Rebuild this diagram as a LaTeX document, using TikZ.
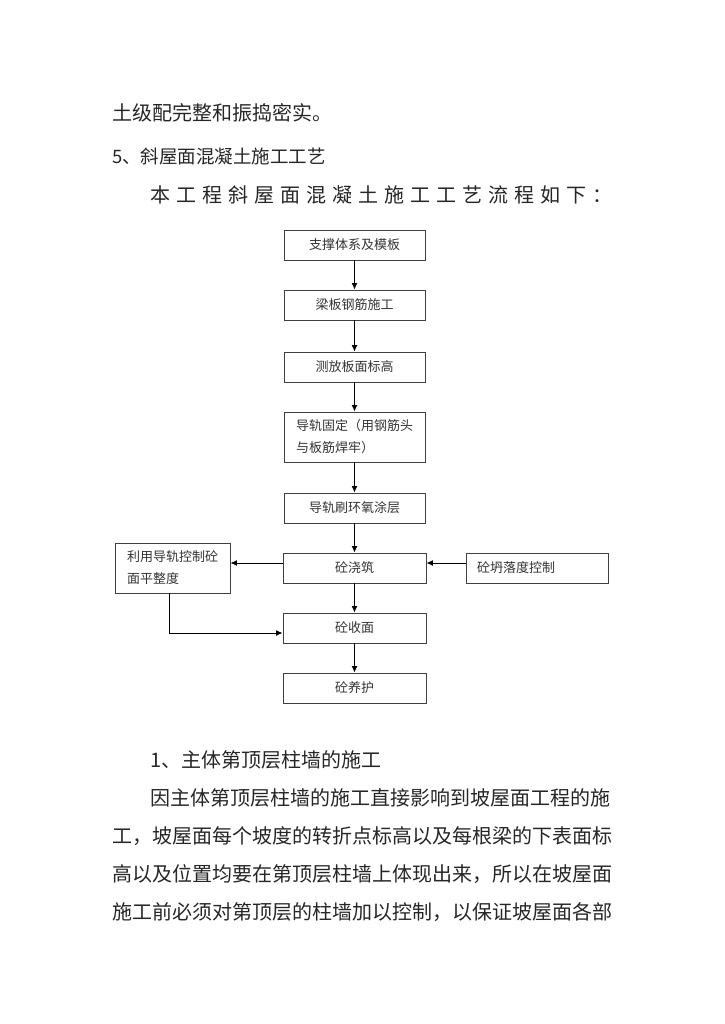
\documentclass[tikz,border=0pt]{standalone}
\usepackage{fontspec}
\setmainfont{Noto Sans CJK SC}
\usetikzlibrary{arrows.meta}

\begin{document}
\begin{tikzpicture}[x=1pt,y=-1pt,
    txt/.style={anchor=west,inner sep=0,text=black!85,font=\fontsize{20}{24}\selectfont},
    box/.style={draw=black!75,line width=0.9pt,rectangle,minimum width=141pt,minimum height=30pt,inner sep=0,text=black!80,font=\fontsize{13}{22}\selectfont},
    arr/.style={line width=1pt,-{Latex[length=6.5pt,width=6pt]}}]
    \useasboundingbox (0,0) rectangle (724,1024);
    %% Text above
    \node[txt] (t1) at (112,113) {土级配完整和振捣密实。};
    \node[txt,font=\fontsize{18.5}{24}\selectfont] (t2) at (112,156) {5、斜屋面混凝土施工工艺};
    \node[txt,font=\fontsize{20}{24}\selectfont\addfontfeature{LetterSpace=30}] (t3) at (150,195) {本工程斜屋面混凝土施工工艺流程如下：};
    %% Main column
    \node[box] (zc) at (354.5,245) {支撑体系及模板};
    \node[box] (gj) at (354.5,305) {梁板钢筋施工};
    \node[box] (bg) at (354.5,367) {测放板面标高};
    \node[box,minimum height=50pt,align=left] (dg) at (354.5,437) {导轨固定（用钢筋头\\与板筋焊牢）};
    \node[box] (tc) at (354.5,508) {导轨刷环氧涂层};
    \node[box,minimum width=143pt] (jz) at (354.5,568) {砼浇筑};
    \node[box,minimum width=143pt] (sm) at (354.5,628) {砼收面};
    \node[box,minimum width=143pt] (yh) at (354.5,688) {砼养护};
    %% Side boxes
    \node[box,minimum width=115pt,minimum height=50pt,align=left] (pz) at (172.5,568) {利用导轨控制砼\\面平整度};
    \node[box,minimum width=142pt,text width=120pt,align=left] (tl) at (537,568) {砼坍落度控制};
    %% Arrows
    \draw[arr] (zc) -- (gj);
    \draw[arr] (gj) -- (bg);
    \draw[arr] (bg) -- (dg);
    \draw[arr] (dg) -- (tc);
    \draw[arr] (tc) -- (jz);
    \draw[arr] (jz) -- (sm);
    \draw[arr] (sm) -- (yh);
    \draw[arr] ([yshift=5pt]jz.west) -- ([yshift=5pt]jz.west -| pz.east);
    \draw[arr] ([yshift=5pt]tl.west) -- ([yshift=5pt]tl.west -| jz.east);
    \draw[arr] ([xshift=-3.5pt]pz.south) |- ([yshift=-5pt]sm.west);
    %% Text below
    \node[txt] (s1) at (150,760) {1、主体第顶层柱墙的施工};
    \node[txt] (p1) at (150,798) {因主体第顶层柱墙的施工直接影响到坡屋面工程的施};
    \node[txt] (p2) at (112,836) {工，坡屋面每个坡度的转折点标高以及每根梁的下表面标};
    \node[txt] (p3) at (112,874) {高以及位置均要在第顶层柱墙上体现出来，所以在坡屋面};
    \node[txt] (p4) at (112,912) {施工前必须对第顶层的柱墙加以控制，以保证坡屋面各部};
\end{tikzpicture}
\end{document}
